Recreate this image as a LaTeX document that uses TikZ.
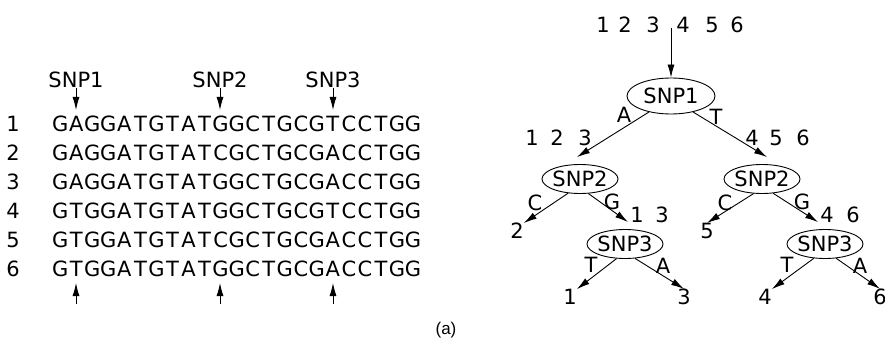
\documentclass[tikz,border=0pt]{standalone}
\usepackage{fontspec}
\setmainfont{DejaVu Sans}
\newfontfamily\capfont{Liberation Sans}
\usetikzlibrary{arrows.meta,shapes.geometric}
\def\sq#1{\sqaux#1\relax}
\def\sqaux#1{\ifx#1\relax\else\makebox[16.04pt]{#1}\expandafter\sqaux\fi}
\begin{document}
\begin{tikzpicture}[x=1pt,y=-1pt,
  every node/.style={font=\fontsize{21}{25}\selectfont, inner sep=0pt},
  ar/.style={-{Latex[length=13pt,width=7pt]}, line width=0.9pt},
  snp/.style={draw, ellipse, line width=0.9pt, minimum width=76pt, minimum height=29pt},
  seqrow/.style={anchor=west}]
\useasboundingbox (0,0) rectangle (885,339);
% ---- sequences ----
\foreach \n/\s [count=\i from 0] in {1/GAGGATGTATGGCTGCGTCCTGG,2/GAGGATGTATCGCTGCGACCTGG,3/GAGGATGTATGGCTGCGACCTGG,4/GTGGATGTATGGCTGCGTCCTGG,5/GTGGATGTATCGCTGCGACCTGG,6/GTGGATGTATGGCTGCGACCTGG}{
  \node (num\n) at (13,124+29*\i) {\n};
  \node[seqrow] (row\n) at (52,124+29*\i) {\expandafter\sq\expandafter{\s}};
}
\node (p1) at (76,80) {SNP1};
\node (p2) at (220,80) {SNP2};
\node (p3) at (333,80) {SNP3};
\coordinate (c1) at (76,110);
\coordinate (c2) at (220,110);
\coordinate (c3) at (333,110);
\draw[ar] (p1.south) -- (c1);
\draw[ar] (p2.south) -- (c2);
\draw[ar] (p3.south) -- (c3);
\coordinate (b1) at (76,304);  \coordinate (e1) at (76,283);
\coordinate (b2) at (220,304); \coordinate (e2) at (220,283);
\coordinate (b3) at (333,304); \coordinate (e3) at (333,283);
\draw[ar] (b1) -- (e1);
\draw[ar] (b2) -- (e2);
\draw[ar] (b3) -- (e3);
% ---- tree ----
\node (t1) at (603,25) {1};
\node (t2) at (625,25) {2};
\node (t3) at (653,25) {3};
\node (t4) at (683,25) {4};
\node (t5) at (712,25) {5};
\node (t6) at (737,25) {6};
\coordinate (top) at (671,28);
\node[snp, minimum width=88pt, minimum height=36pt] (s1) at (671,96) {\makebox[44pt]{SNP1}};
\node[snp] (s2l) at (580,179) {\makebox[44pt]{SNP2}};
\node[snp] (s2r) at (762,179) {\makebox[44pt]{SNP2}};
\node[snp] (s3l) at (625,244) {\makebox[44pt]{SNP3}};
\node[snp] (s3r) at (825,244) {\makebox[44pt]{SNP3}};
\draw[ar] (top) -- (s1.north);
% group labels
\node (g1) at (532,138) {1}; \node (g2) at (557,138) {2}; \node (g3) at (585,138) {3};
\node (g4) at (752,138) {4}; \node (g5) at (776,138) {5}; \node (g6) at (803,138) {6};
\node (h1) at (637,215) {1}; \node (h3) at (662,215) {3};
\node (h4) at (827,215) {4}; \node (h6) at (853,215) {6};
% leaves
\node (l2) at (517,231) {2};
\node (l5) at (707,231) {5};
\node (l1) at (570,297) {1};
\node (l3) at (684,297) {3};
\node (l4) at (765,297) {4};
\node (l6) at (880,297) {6};
% edges
\draw[ar] (s1.216) -- ([shift={(-3,-7)}]s2l.north);
\draw[ar] (s1.324) -- ([shift={(5,-7)}]s2r.north);
\draw[ar] (s2l.230) -- (l2.north east);
\draw[ar] (s2l.300) -- ([shift={(3,-7)}]s3l.north);
\draw[ar] (s2r.240) -- (l5.north);
\draw[ar] (s2r.308) -- ([shift={(-7,-7)}]s3r.north);
\draw[ar] (s3l.240) -- (l1.north east);
\draw[ar] (s3l.305) -- (l3.north);
\draw[ar] (s3r.232) -- (l4.north east);
\draw[ar] (s3r.308) -- (l6.north);
% edge labels
\node (ea) at (624,115) {A};
\node (et) at (716,117) {T};
\node (c2l) at (535,203) {C};
\node (g2l) at (612,202) {G};
\node (c2r) at (725,203) {C};
\node (g2r) at (802,202) {G};
\node (t3l) at (591,265) {T};
\node (a3l) at (663,266) {A};
\node (t3r) at (787,265) {T};
\node (a3r) at (860,266) {A};
% caption
\node[font=\capfont\fontsize{17}{20}\selectfont] (cap) at (446,330) {(a)};
\end{tikzpicture}
\end{document}
